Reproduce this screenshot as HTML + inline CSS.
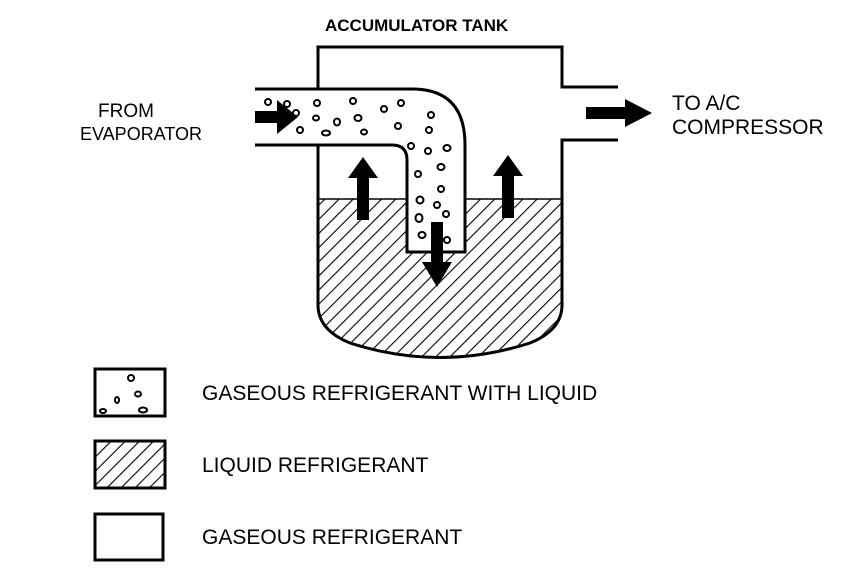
<!DOCTYPE html>
<html><head><meta charset="utf-8"><style>
html,body{margin:0;padding:0;background:#fff;}
svg{display:block;}
text{font-family:"Liberation Sans",Arial,sans-serif;font-size:18px;fill:#000;}
</style></head><body>
<svg width="864" height="570" viewBox="0 0 864 570" xmlns="http://www.w3.org/2000/svg">
<defs>
<pattern id="hatch" width="10" height="10" patternUnits="userSpaceOnUse" patternTransform="rotate(45)">
<rect width="10" height="10" fill="#fff"/>
<line x1="0" y1="0" x2="0" y2="10" stroke="#000" stroke-width="2.2"/>
</pattern>
<clipPath id="tankclip"><path d="M318,199 L562,199 L562,305 Q562,330 530,343 Q440,372 350,343 Q318,330 318,305 Z"/></clipPath>
</defs>
<rect x="318" y="199" width="244" height="170" fill="url(#hatch)" clip-path="url(#tankclip)"/>
<line x1="318" y1="199" x2="562" y2="199" stroke="#000" stroke-width="1.5"/>
<path d="M318,89 L318,47 L562,47 L562,87 L618,87" fill="none" stroke="#000" stroke-width="3"/>
<path d="M618,140 L562,140 L562,305 Q562,330 530,343 Q440,372 350,343 Q318,330 318,305 L318,145" fill="none" stroke="#000" stroke-width="3"/>
<path d="M255,89 L412,89 Q465,89 465,145 L465,252 L407,252 L407,160 Q407,145 392,145 L255,145" fill="#fff" stroke="#000" stroke-width="3"/>
<g fill="none" stroke="#000" stroke-width="2">
<ellipse cx="268" cy="102" rx="3" ry="3"/><ellipse cx="287" cy="104" rx="3" ry="3"/><ellipse cx="296" cy="113" rx="3" ry="3"/>
<ellipse cx="317" cy="103" rx="3" ry="3"/><ellipse cx="316" cy="118" rx="3" ry="2.5"/><ellipse cx="337" cy="122" rx="3" ry="3.5"/>
<ellipse cx="300" cy="130" rx="3" ry="3"/><ellipse cx="326" cy="133" rx="4" ry="2.5"/><ellipse cx="353" cy="101" rx="3" ry="3"/>
<ellipse cx="358" cy="118" rx="3.5" ry="3"/><ellipse cx="364" cy="132" rx="3" ry="2.5"/><ellipse cx="384" cy="109" rx="3" ry="3"/>
<ellipse cx="401" cy="103" rx="3" ry="3"/><ellipse cx="398" cy="126" rx="3" ry="3"/><ellipse cx="431" cy="115" rx="3" ry="3"/>
<ellipse cx="429" cy="130" rx="3" ry="3"/><ellipse cx="411" cy="146" rx="3" ry="3"/><ellipse cx="428" cy="151" rx="3" ry="3"/>
<ellipse cx="447" cy="148" rx="3.5" ry="3"/><ellipse cx="441" cy="167" rx="3.5" ry="3"/><ellipse cx="418" cy="174" rx="3" ry="3"/>
<ellipse cx="441" cy="189" rx="3" ry="3"/><ellipse cx="420" cy="200" rx="3.5" ry="3.5"/><ellipse cx="437" cy="205" rx="3" ry="3"/>
<ellipse cx="419" cy="218" rx="3.5" ry="4"/><ellipse cx="446" cy="214" rx="3" ry="3"/><ellipse cx="422" cy="235" rx="3.5" ry="3"/>
<ellipse cx="447" cy="240" rx="3" ry="3"/>
</g>
<g fill="#000">
<path d="M255,111 L277,111 L277,100 L298,117 L277,134 L277,123 L255,123 Z"/>
<path d="M586,107 L625,107 L625,99 L652,113 L625,127 L625,119 L586,119 Z"/>
<path d="M357,220 L357,178 L348,178 L363,157 L378,178 L369,178 L369,220 Z"/>
<path d="M502,218 L502,176 L493,176 L508,155 L523,176 L514,176 L514,218 Z"/>
<path d="M431,222 L443,222 L443,262 L452,262 L437,287 L422,262 L431,262 Z"/>
</g>
<text x="325" y="31" font-weight="bold" style="font-size:17px">ACCUMULATOR TANK</text>
<text x="98" y="117" style="font-size:19px">FROM</text>
<text x="80" y="140" style="font-size:18px">EVAPORATOR</text>
<text x="672" y="110" style="font-size:21px">TO A/C</text>
<text x="672" y="134" style="font-size:21px">COMPRESSOR</text>
<rect x="95" y="369" width="70" height="47" fill="#fff" stroke="#000" stroke-width="3"/>
<g fill="none" stroke="#000" stroke-width="2">
<ellipse cx="131" cy="378" rx="3" ry="3"/><ellipse cx="138" cy="394" rx="3" ry="2.5"/><ellipse cx="117" cy="400" rx="2" ry="3"/>
<ellipse cx="103" cy="411" rx="3" ry="2"/><ellipse cx="143" cy="410" rx="4" ry="2.5"/>
</g>
<rect x="95" y="441" width="70" height="47" fill="url(#hatch)" stroke="#000" stroke-width="3"/>
<rect x="95" y="514" width="68" height="46" fill="#fff" stroke="#000" stroke-width="3"/>
<text x="202" y="400" style="font-size:21px">GASEOUS REFRIGERANT WITH LIQUID</text>
<text x="202" y="472" style="font-size:21px">LIQUID REFRIGERANT</text>
<text x="202" y="544" style="font-size:21px">GASEOUS REFRIGERANT</text>
</svg>
</body></html>
